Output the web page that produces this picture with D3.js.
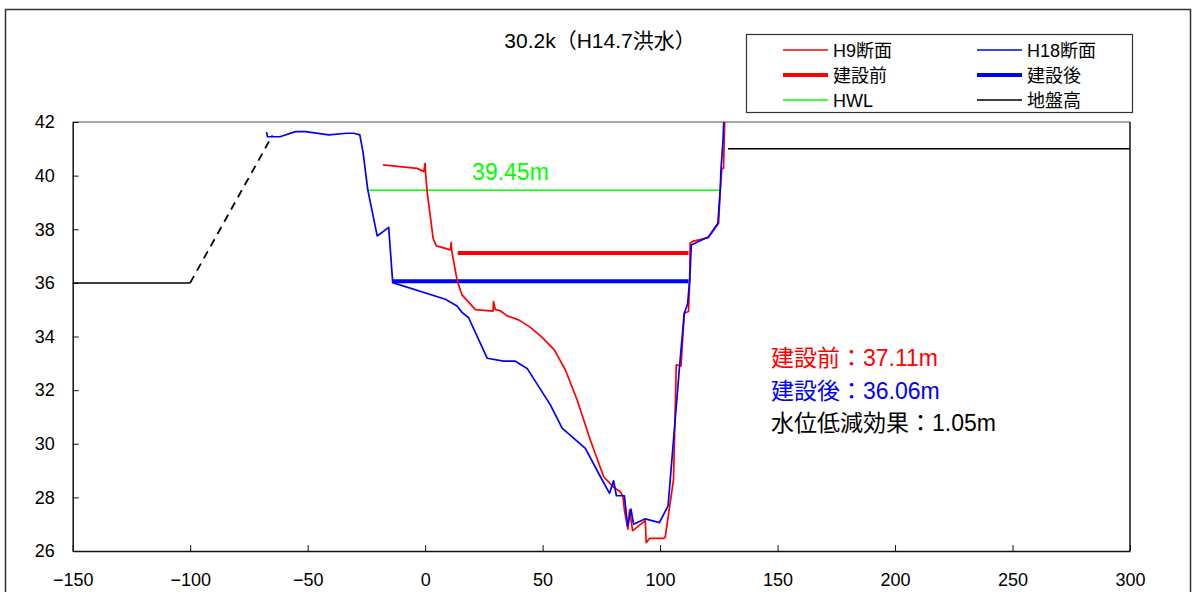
<!DOCTYPE html>
<html><head><meta charset="utf-8">
<script src="https://cdn.jsdelivr.net/npm/d3@7"></script>
<style>
html,body{margin:0;padding:0;background:#fff;}
svg{display:block;}
text{font-family:"Liberation Sans","Noto Sans CJK JP",sans-serif;}
</style></head>
<body>
<svg id="chart" width="1196" height="592"></svg>
<script>
// ---- data ----
const xTicks = [-150,-100,-50,0,50,100,150,200,250,300];
const yTicks = [26,28,30,32,34,36,38,40,42];
const h9Section = [[-18.0,40.40],[-3.4,40.27],[-0.6,40.15],[0.0,40.46],[0.2,40.10],[0.85,39.40],[3.4,37.66],[4.8,37.38],[10.8,37.23],[11.1,37.51],[11.3,37.2],[13.6,36.1],[15.7,35.55],[21.4,35.0],[28.9,34.95],[29.1,35.30],[29.9,35.0],[32.0,34.96],[34.9,34.77],[39.8,34.62],[44.8,34.34],[49.8,33.97],[55.0,33.50],[59.7,32.75],[64.7,31.63],[70.3,30.14],[76.0,28.77],[80.2,28.38],[83.1,28.21],[84.2,28.03],[84.8,27.53],[86.3,26.81],[87.0,27.53],[88.3,26.76],[93.7,27.13],[94.1,26.31],[95.5,26.47],[101.5,26.47],[102.2,26.53],[105.7,28.65],[106.9,32.94],[108.9,32.9],[110.3,34.87],[112.1,34.93],[112.6,36.1],[112.8,37.48],[114.2,37.56],[120.6,37.69],[124.9,38.22],[125.6,39.47],[126.3,40.27],[127.0,40.27],[127.3,41.33],[127.6,42.5]];
const h18Section = [[-67.5,41.62],[-67.1,41.45],[-65.1,41.45],[-61.8,41.45],[-55.2,41.64],[-50.9,41.64],[-41.0,41.52],[-33.2,41.58],[-30.4,41.58],[-27.8,41.52],[-26.4,40.86],[-24.4,39.47],[-20.4,37.75],[-15.5,38.07],[-13.8,36.01],[8.6,35.39],[13.6,35.14],[15.7,34.90],[18.5,34.70],[26.4,33.19],[33.4,33.08],[38.4,33.08],[43.4,32.81],[53.3,31.45],[58.3,30.58],[68.2,29.83],[74.6,28.77],[78.5,28.15],[80.2,28.62],[81.4,28.06],[84.8,28.06],[86.2,26.93],[87.6,27.56],[88.7,27.0],[93.7,27.2],[99.7,27.06],[103.4,27.68],[108.3,32.9],[110.3,34.87],[111.7,35.21],[112.6,36.1],[113.3,37.41],[120.6,37.72],[124.6,38.22],[125.6,39.47],[125.9,40.21],[126.8,41.33],[127.3,42.5]];
const beforeLevel = [[13.9,37.11],[112.1,37.11]];
const afterLevel = [[-13.8,36.06],[112.1,36.06]];
const hwl = [[-24.4,39.45],[125.6,39.45]];
const groundLeft = [[-150,36],[-100,36]];
const groundDashed = [[-100,36],[-65,41.5]];
const groundRight = [[128.9,41],[300,41]];
const legendLabels = ["H9断面","H18断面","建設前","建設後","HWL","地盤高"];
const titleText = "30.2k（H14.7洪水）";
const hwlLabel = "39.45m";
const notes = ["建設前：37.11m","建設後：36.06m","水位低減効果：1.05m"];

// ---- layout ----
const svg = d3.select("#chart");
const L = 72.7, R = 1130, T = 122, B = 551;
const x = d3.scaleLinear().domain([-150,300]).range([L,R]);
const y = d3.scaleLinear().domain([26,42]).range([B,T]);

// outer frame
svg.append("rect").attr("x",5.5).attr("y",9.5).attr("width",1185).attr("height",600)
  .attr("fill","none").attr("stroke","#333").attr("stroke-width",1.5);

// plot frame (top gray, right black)
svg.append("line").attr("x1",L).attr("x2",R).attr("y1",T).attr("y2",T).attr("stroke","#888").attr("stroke-width",1.5);
svg.append("line").attr("x1",R).attr("x2",R).attr("y1",T).attr("y2",B).attr("stroke","#111").attr("stroke-width",1.5);

// axes
const xAxis = d3.axisBottom(x).tickValues(xTicks).tickSizeInner(-6).tickSizeOuter(0)
  .tickFormat(d => d < 0 ? "−" + Math.abs(d) : String(d)).tickPadding(22);
const gx = svg.append("g").attr("transform",`translate(0,${B})`).call(xAxis);
gx.select(".domain").attr("stroke","#111").attr("stroke-width",1.5);
gx.selectAll(".tick line").attr("stroke","#111");
gx.selectAll("text").attr("font-size",18).attr("fill","#000");

const yAxis = d3.axisLeft(y).tickValues(yTicks).tickSizeInner(-6).tickSizeOuter(0).tickPadding(18);
const gy = svg.append("g").attr("transform",`translate(${L},0)`).call(yAxis);
gy.select(".domain").attr("stroke","#111").attr("stroke-width",1.5);
gy.selectAll(".tick line").attr("stroke","#111");
gy.selectAll("text").attr("font-size",18).attr("fill","#000");

// clip
svg.append("clipPath").attr("id","clip").append("rect").attr("x",L).attr("y",T).attr("width",R-L).attr("height",B-T);
const plot = svg.append("g").attr("clip-path","url(#clip)");
const line = d3.line().x(d=>x(d[0])).y(d=>y(d[1]));

function draw(data, color, w, dash){
  const p = plot.append("path").datum(data).attr("d",line).attr("fill","none")
    .attr("stroke",color).attr("stroke-width",w).attr("stroke-linejoin","round");
  if (dash) p.attr("stroke-dasharray",dash);
}
draw(groundLeft,"#000",1.5);
draw(groundDashed,"#000",1.8,"8,6");
draw(groundRight,"#000",1.5);
draw(hwl,"#00ff00",1.5);
draw(beforeLevel,"#ff0000",4);
draw(afterLevel,"#0000ff",4);
draw(h9Section,"#ff0000",1.7);
draw(h18Section,"#0000ff",1.7);

// title
svg.append("text").attr("x",600).attr("y",48).attr("text-anchor","middle")
  .attr("font-size",21).attr("fill","#000").text(titleText);

// HWL label
svg.append("text").attr("x",x(20)).attr("y",180).attr("font-size",23).attr("fill","#00ff00").text(hwlLabel);

// notes
const noteColors = ["#ff0000","#0000ff","#000"];
notes.forEach((t,i)=>{
  svg.append("text").attr("x",771).attr("y",366 + i*32.5).attr("font-size",23)
    .attr("fill",noteColors[i]).text(t);
});

// legend
svg.append("rect").attr("x",746.5).attr("y",34.5).attr("width",386).attr("height",78)
  .attr("fill","#fff").attr("stroke","#333").attr("stroke-width",1.2);
const legColors = ["#ff0000","#0000ff","#ff0000","#0000ff","#00ff00","#000"];
const legWidths = [1.5,1.5,4,4,1.5,1.5];
legendLabels.forEach((lab,i)=>{
  const col = i%2, row = Math.floor(i/2);
  const lx = col===0 ? 783 : 977;
  const ly = 50 + row*25;
  svg.append("line").attr("x1",lx).attr("x2",lx+45).attr("y1",ly).attr("y2",ly)
    .attr("stroke",legColors[i]).attr("stroke-width",legWidths[i]);
  svg.append("text").attr("x",lx+50).attr("y",ly+6.5).attr("font-size",18).attr("fill","#000").text(lab);
});
</script>
</body></html>
